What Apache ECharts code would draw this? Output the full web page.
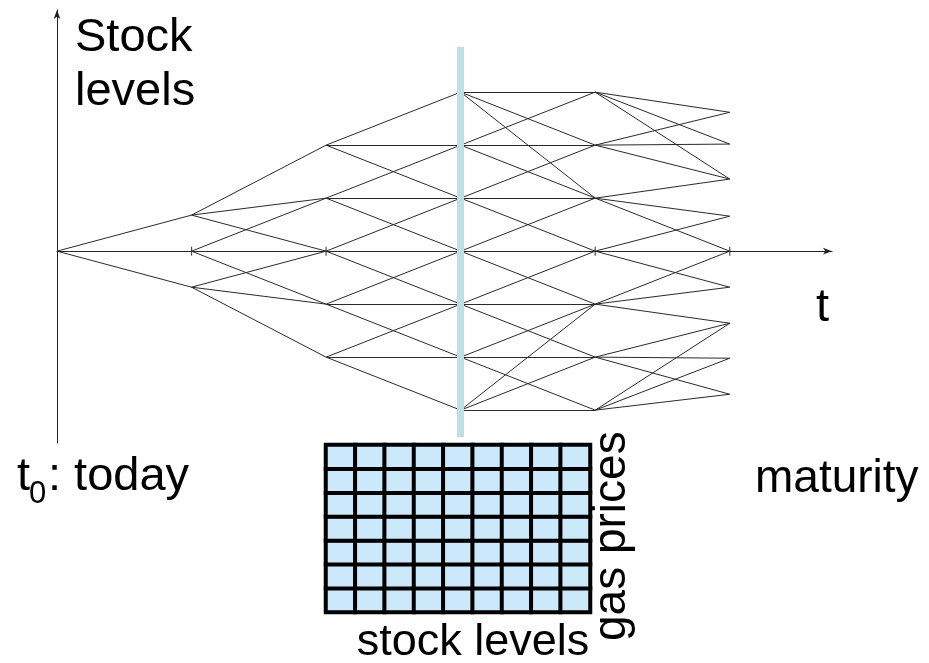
<!DOCTYPE html>
<html>
<head>
<meta charset="utf-8">
<script src="https://cdn.jsdelivr.net/npm/echarts@6/dist/echarts.min.js"></script>
<style>
html,body{margin:0;padding:0;background:#fff;}
#chart{width:929px;height:663px;}
</style>
</head>
<body>
<div id="chart"></div>
<script>
// ---- data ----
const times = [0, 1, 2, 3, 4, 5];
// stock levels of the tree nodes at each time step
const nodeLevels = [
  [0],
  [0.68, 0, -0.68],
  [2, 1, 0, -1, -2],
  [3, 2, 1, 0, -1, -2, -3],
  [3, 2, 1, 0, -1, -2, -3],
  [2.62, 2.02, 1.36, 0.66, 0, -0.68, -1.36, -2.02, -2.7]
];
// branches [fromNodeIndex, toNodeIndex] between step k and k+1
const branches = [
  [[0,0],[0,1],[0,2]],
  [[0,0],[0,1],[0,2],[1,1],[1,2],[1,3],[2,2],[2,3],[2,4]],
  [[0,0],[0,1],[0,2],[1,1],[1,2],[1,3],[2,2],[2,3],[2,4],[3,3],[3,4],[3,5],[4,4],[4,5],[4,6]],
  [[0,0],[0,1],[0,2],[1,0],[1,1],[1,2],[2,1],[2,2],[2,3],[3,2],[3,3],[3,4],[4,3],[4,4],[4,5],[5,4],[5,5],[5,6],[6,4],[6,5],[6,6]],
  [[0,0],[0,1],[0,2],[1,0],[1,1],[1,2],[2,2],[2,3],[2,4],[3,3],[3,4],[3,5],[4,4],[4,5],[4,6],[5,6],[5,7],[5,8],[6,6],[6,7],[6,8]]
];
const axisTicks = [1, 2, 3, 4, 5];
const sliceTime = 3;
const sliceRange = [3.85, -3.51];
const stockLevelCols = ['s1','s2','s3','s4','s5','s6','s7','s8','s9'];
const gasPriceRows = ['p1','p2','p3','p4','p5','p6','p7'];
const xRange = [0, 5.76];
const yRange = [-3.62, 4.55];

// ---- build ----
const edgeData = [];
branches.forEach((list, k) => {
  list.forEach(([a, b]) => {
    edgeData.push({coords: [[times[k], nodeLevels[k][a]], [times[k + 1], nodeLevels[k + 1][b]]]});
  });
});
const cellData = [];
stockLevelCols.forEach((c, i) => gasPriceRows.forEach((r, j) => cellData.push([i, j, 1])));

const FONT = '"Liberation Sans", Arial, sans-serif';
const FS = 47;
const txt = (text, x, y, extra, size, align) => Object.assign({type: 'text', x: x, y: y,
  style: {text: text, font: (size || FS) + 'px ' + FONT, fill: '#000', textAlign: align || 'left', textVerticalAlign: 'middle'}}, extra || {});
const chart = echarts.init(document.getElementById('chart'), null, {renderer: 'canvas'});
chart.setOption({
  animation: false,
  backgroundColor: '#fff',
  grid: [
    {left: 57, right: 97, top: 10, bottom: 220},
    {left: 326, top: 445, width: 264, height: 167}
  ],
  xAxis: [
    {type: 'value', gridIndex: 0, min: xRange[0], max: xRange[1],
     axisLine: {show: true, onZero: true, symbol: ['none', 'arrow'], symbolSize: [5, 9], lineStyle: {color: '#222', width: 1}},
     axisTick: {show: false}, axisLabel: {show: false}, splitLine: {show: false}},
    {type: 'category', gridIndex: 1, data: stockLevelCols, show: false}
  ],
  yAxis: [
    {type: 'value', gridIndex: 0, min: yRange[0], max: yRange[1],
     axisLine: {show: true, onZero: false, symbol: ['none', 'arrow'], symbolSize: [5, 9], lineStyle: {color: '#222', width: 1}},
     axisTick: {show: false}, axisLabel: {show: false}, splitLine: {show: false}},
    {type: 'category', gridIndex: 1, data: gasPriceRows, show: false}
  ],
  visualMap: {show: false, seriesIndex: 3, min: 0, max: 1, inRange: {color: ['#cce9fb', '#cce9fb']}},
  series: [
    {type: 'lines', coordinateSystem: 'cartesian2d', xAxisIndex: 0, yAxisIndex: 0, silent: true, z: 2,
     lineStyle: {color: '#2a2a2a', width: 1, opacity: 1}, data: edgeData},
    {type: 'scatter', xAxisIndex: 0, yAxisIndex: 0, silent: true, z: 3, symbol: 'rect', symbolSize: [1.2, 9],
     itemStyle: {color: '#222'}, data: axisTicks.map(t => [t, 0])},
    {type: 'lines', coordinateSystem: 'cartesian2d', xAxisIndex: 0, yAxisIndex: 0, silent: true, z: 5,
     lineStyle: {color: '#bde0e3', width: 7, opacity: 1, cap: 'butt'},
     data: [{coords: [[sliceTime, sliceRange[0]], [sliceTime, sliceRange[1]]]}]},
    {type: 'heatmap', xAxisIndex: 1, yAxisIndex: 1, silent: true, data: cellData,
     itemStyle: {borderColor: '#000', borderWidth: 4}}
  ],
  graphic: [
    txt('Stock', 75, 38),
    txt('levels', 75, 92),
    txt('t', 816, 308),
    txt('t', 17, 477),
    txt('0', 29, 494, null, 31),
    txt(': today', 48, 477),
    txt('maturity', 755, 479, null, 46),
    txt('stock levels', 473, 643, null, 45, 'center'),
    txt('gas prices', 612, 641, {rotation: Math.PI / 2}, 46)
  ]
});
</script>
</body>
</html>
